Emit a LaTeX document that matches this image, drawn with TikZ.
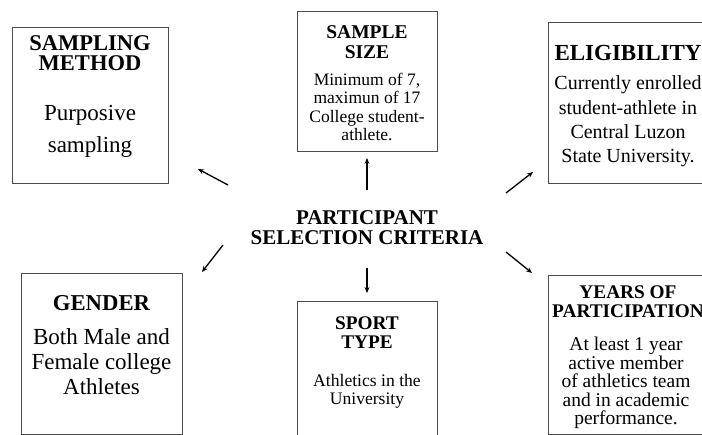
\documentclass[tikz,border=0pt]{standalone}
\usepackage{fontspec}
\setmainfont{Liberation Serif}
\usetikzlibrary{arrows.meta}
\begin{document}
\begin{tikzpicture}[x=1pt,y=-1pt,
  box/.style={draw=black!70, line width=0.9pt, inner sep=0pt},
  txt/.style={align=center, inner sep=0pt, text=black},
  arr/.style={line width=1.3pt, -{Stealth[length=6pt,width=5pt]}}
]
\useasboundingbox (0,0) rectangle (702,435);
\clip (0,0) rectangle (702,435);

% boxes
\node[box, minimum width=156pt, minimum height=156pt] (b1) at (90,105) {};
\node[box, minimum width=140pt, minimum height=140pt] (b2) at (367,81) {};
\node[box, minimum width=160pt, minimum height=161pt] (b3) at (628,102.5) {};
\node[box, minimum width=161pt, minimum height=161pt] (b4) at (101.5,353.5) {};
\node[box, minimum width=140pt, minimum height=144pt] (b5) at (367,373) {};
\node[box, minimum width=160pt, minimum height=159pt] (b6) at (628,354.5) {};

% box 1
\node[txt, font=\bfseries\fontsize{22.5}{20}\selectfont] (t1) at (90,53) {SAMPLING\\METHOD};
\node[txt, font=\fontsize{23}{32}\selectfont] (d1) at (90,131) {Purposive\\sampling};
% box 2
\node[txt, font=\bfseries\fontsize{19.5}{20}\selectfont] (t2) at (367,42) {SAMPLE\\SIZE};
\node[txt, font=\fontsize{17.5}{18.3}\selectfont] (d2) at (367,107) {Minimum of 7,\\maximun of 17\\College student-\\athlete.};
% box 3
\node[txt, font=\bfseries\fontsize{23}{20}\selectfont] (t3) at (628,53) {ELIGIBILITY};
\node[txt, font=\fontsize{20}{24.3}\selectfont] (d3) at (628,121.5) {Currently enrolled\\student-athlete in\\Central Luzon\\State University.};
% box 4
\node[txt, font=\bfseries\fontsize{22.7}{20}\selectfont] (t4) at (101.5,303) {GENDER};
\node[txt, font=\fontsize{23}{25}\selectfont] (d4) at (101.5,362) {Both Male and\\Female college\\Athletes};
% box 5
\node[txt, font=\bfseries\fontsize{19.3}{19.5}\selectfont] (t5) at (367,332.5) {SPORT\\TYPE};
\node[txt, font=\fontsize{17.6}{18}\selectfont] (d5) at (367,391) {Athletics in the\\University};
% box 6
\node[txt, font=\bfseries\fontsize{19.3}{19}\selectfont] (t6) at (628,301.5) {YEARS OF\\PARTICIPATION};
\node[txt, font=\fontsize{19.5}{18.4}\selectfont] (d6) at (626,383) {At least 1 year\\active member\\of athletics team\\and in academic\\performance.};

% centre
\node[txt, font=\bfseries\fontsize{21}{20}\selectfont] (c) at (367,228) {PARTICIPANT\\SELECTION CRITERIA};

% arrow end points
\coordinate (uS) at (367,190); \coordinate (uE) at (367,158);
\coordinate (dS) at (367,268); \coordinate (dE) at (367,293);
\coordinate (ulS) at (228,185); \coordinate (ulE) at (198,169);
\coordinate (urS) at (506,193); \coordinate (urE) at (533,172);
\coordinate (llS) at (223,245); \coordinate (llE) at (202,272);
\coordinate (lrS) at (506,252); \coordinate (lrE) at (532,273);

\draw[arr] (uS) -- (uE);
\draw[arr] (dS) -- (dE);
\draw[arr] (ulS) -- (ulE);
\draw[arr] (urS) -- (urE);
\draw[arr] (llS) -- (llE);
\draw[arr] (lrS) -- (lrE);
\end{tikzpicture}
\end{document}
